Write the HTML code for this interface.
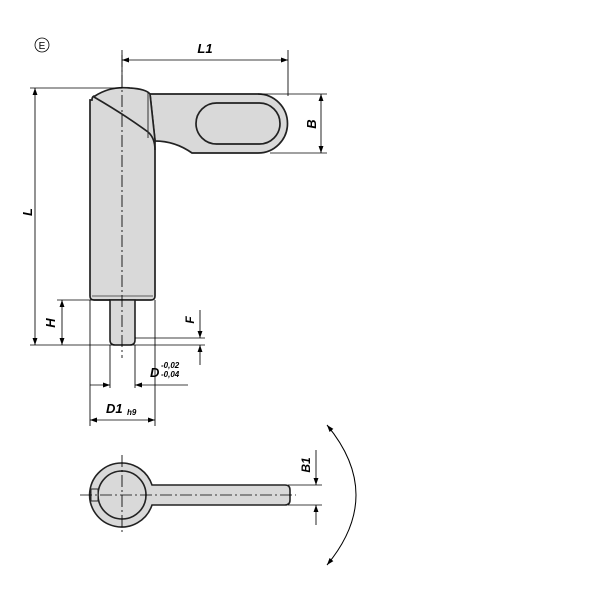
<!DOCTYPE html>
<html><head><style>body{margin:0;background:#fff}svg{display:block}</style></head><body>
<svg width="600" height="600" viewBox="0 0 600 600" xmlns="http://www.w3.org/2000/svg" font-family="Liberation Sans, sans-serif" font-style="italic" font-weight="bold">
<defs>
<marker id="a" viewBox="0 0 10 10" refX="10" refY="5" markerWidth="11" markerHeight="7" markerUnits="userSpaceOnUse" orient="auto-start-reverse"><path d="M0,1.5 L10,5 L0,8.5z" fill="#000"/></marker>
</defs>
<g stroke="#000" stroke-width="0.8" fill="none">
<circle cx="42" cy="45" r="7"/>
</g>
<text x="42" y="49" font-size="10" text-anchor="middle" font-style="normal" font-weight="normal">E</text>
<path d="M150,94 L258,94 A29.5,29.5 0 0 1 258,153 L192,153 Q175,141 155,141 Z" fill="#d9d9d9" stroke="#222" stroke-width="1.7"/>
<rect x="196" y="103" width="84" height="41" rx="20.5" fill="#d9d9d9" stroke="#222" stroke-width="1.7"/>
<path d="M92,100 Q92,96 95,96 Q110,86 130,88 Q146,89 150,94 L155,140 L155,296 Q155,300 151,300 L94,300 Q90,300 90,296 L90,100 Z" fill="#d9d9d9" stroke="#222" stroke-width="1.7"/>
<path d="M94,97 Q125,115 148,132 Q155,138 155,150" fill="none" stroke="#222" stroke-width="1.7"/>
<line x1="148" y1="93" x2="148" y2="138" stroke="#333" stroke-width="1"/>
<line x1="92" y1="296" x2="153" y2="296" stroke="#333" stroke-width="0.8"/>
<path d="M110,300 L135,300 L135,340 Q135,345 130,345 L115,345 Q110,345 110,340 Z" fill="#d9d9d9" stroke="#222" stroke-width="1.6"/>
<g stroke="#000" stroke-width="0.85" fill="none">
<line x1="122" y1="55" x2="122" y2="358" stroke-dasharray="12,3,2,3"/>
<line x1="122" y1="50" x2="122" y2="88"/>
<line x1="288" y1="50" x2="288" y2="96"/>
<line x1="122" y1="60" x2="288" y2="60" marker-start="url(#a)" marker-end="url(#a)"/>
<line x1="258" y1="94" x2="327" y2="94"/>
<line x1="270" y1="153" x2="327" y2="153"/>
<line x1="321" y1="94" x2="321" y2="153" marker-start="url(#a)" marker-end="url(#a)"/>
<line x1="30" y1="88" x2="122" y2="88"/>
<line x1="30" y1="345" x2="205" y2="345"/>
<line x1="35" y1="88" x2="35" y2="345" marker-start="url(#a)" marker-end="url(#a)"/>
<line x1="57" y1="300" x2="110" y2="300"/>
<line x1="62" y1="300" x2="62" y2="345" marker-start="url(#a)" marker-end="url(#a)"/>
<line x1="135" y1="338" x2="205" y2="338"/>
<line x1="200" y1="310" x2="200" y2="338" marker-end="url(#a)"/>
<line x1="200" y1="365" x2="200" y2="345" marker-end="url(#a)"/>
<line x1="110" y1="345" x2="110" y2="388"/>
<line x1="135" y1="345" x2="135" y2="388"/>
<line x1="90" y1="300" x2="90" y2="426"/>
<line x1="155" y1="300" x2="155" y2="426"/>
<line x1="90" y1="385" x2="110" y2="385" marker-end="url(#a)"/>
<line x1="188" y1="385" x2="135" y2="385" marker-end="url(#a)"/>
<line x1="90" y1="420" x2="155" y2="420" marker-start="url(#a)" marker-end="url(#a)"/>
</g>
<text x="205" y="53" font-size="13" text-anchor="middle">L1</text>
<text transform="translate(316,124) rotate(-90)" font-size="13" text-anchor="middle">B</text>
<text transform="translate(32,212) rotate(-90)" font-size="13" text-anchor="middle">L</text>
<text transform="translate(55,323) rotate(-90)" font-size="13" text-anchor="middle">H</text>
<text transform="translate(194,320) rotate(-90)" font-size="12" text-anchor="middle">F</text>
<text x="150" y="377" font-size="13">D</text>
<text x="161" y="368" font-size="8">-0,02</text>
<text x="161" y="377" font-size="8">-0,04</text>
<text x="106" y="413" font-size="13">D1</text>
<text x="127" y="415" font-size="8">h9</text>
<path d="M122,463 A32,32 0 1 0 152,505 L285,505 Q290,505 290,500 L290,490 Q290,485 285,485 L152,485 A32,32 0 0 0 122,463 Z" fill="#d9d9d9" stroke="#222" stroke-width="1.6"/>
<circle cx="122" cy="495" r="24" fill="#d9d9d9" stroke="#222" stroke-width="1.6"/>
<rect x="91" y="489" width="7" height="12" fill="#d9d9d9" stroke="#222" stroke-width="1"/>
<g stroke="#000" stroke-width="0.85" fill="none">
<line x1="80" y1="495" x2="296" y2="495" stroke-dasharray="12,3,2,3"/>
<line x1="122" y1="455" x2="122" y2="532" stroke-dasharray="12,3,2,3"/>
<line x1="288" y1="485" x2="322" y2="485"/>
<line x1="288" y1="505" x2="322" y2="505"/>
<line x1="316" y1="450" x2="316" y2="485" marker-end="url(#a)"/>
<line x1="316" y1="525" x2="316" y2="505" marker-end="url(#a)"/>
<path d="M327,425 Q385,495 327,565" marker-start="url(#a)" marker-end="url(#a)" stroke-width="1"/>
</g>
<text transform="translate(310,465) rotate(-90)" font-size="12" text-anchor="middle">B1</text>
</svg>
</body></html>
